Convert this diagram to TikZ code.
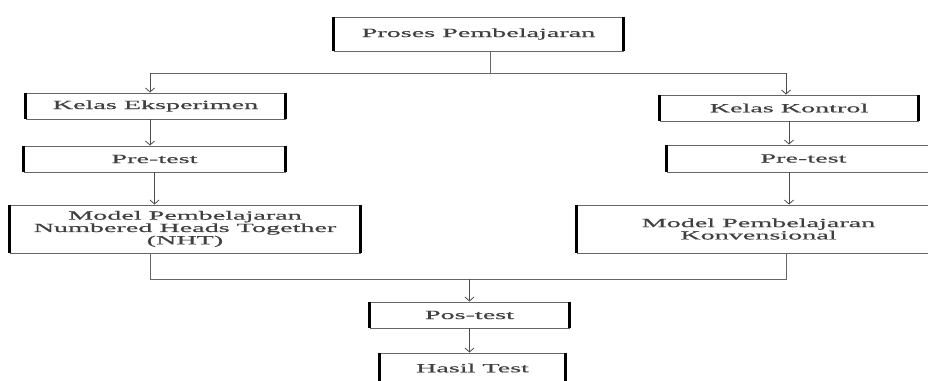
\documentclass[tikz,border=0pt]{standalone}
\usepackage{fontspec}
\setmainfont{Liberation Serif}
\newfontfamily\widefont[FakeStretch=2.25, FakeBold=0.6]{Liberation Serif}
\usetikzlibrary{arrows.meta, calc}

\begin{document}
\begin{tikzpicture}[
  x=1pt, y=-1pt,
  font=\widefont\fontsize{12.5}{10}\selectfont,
  sides/.style={draw=black, line width=2.4pt, -},
  box/.style={draw=black!60, line width=0.9pt, align=center, inner sep=0pt, text=black!75,
    append after command={(\tikzlastnode.north west) edge[sides] (\tikzlastnode.south west)
                          (\tikzlastnode.north east) edge[sides] (\tikzlastnode.south east)}},
  flow/.style={-{Straight Barb[length=4pt, width=9pt]}, draw=black!70, line width=0.8pt},
  link/.style={draw=black!60, line width=0.8pt}
]
\useasboundingbox (0,0) rectangle (928,380);
\clip (0,0) rectangle (928,380);

% --- top: the learning process ---
\node[box, minimum width=289, minimum height=34] (proses) at (478.5,34) {Proses Pembelajaran};

% --- left branch: experiment class ---
\node[box, minimum width=259, minimum height=26] (eksp) at (155.5,106) {Kelas Eksperimen};
\node[box, minimum width=261, minimum height=26] (pre1) at (154.5,159) {Pre-test};
\node[box, minimum width=350, minimum height=48] (nht)  at (185,229)
  {Model Pembelajaran\\Numbered Heads Together\\(NHT)};

% --- right branch: control class ---
\node[box, minimum width=258, minimum height=26] (kontrol) at (789,108) {Kelas Kontrol};
\node[box, minimum width=273, minimum height=27] (pre2)    at (803.5,158.5) {Pre-test};
\node[box, minimum width=363, minimum height=48] (konv)    at (758.5,229)
  {Model Pembelajaran\\Konvensional};

% --- bottom: post-test and result ---
\node[box, minimum width=199, minimum height=26] (pos)   at (469.5,315) {Pos-test};
\node[box, minimum width=185, minimum height=30] (hasil) at (472.5,368) {Hasil Test};

% split into the two classes
\coordinate (lsplit) at (150,73);
\coordinate (rsplit) at (786,73);
\draw[link] ([xshift=12pt]proses.south) -- ([xshift=12pt]proses.south |- lsplit);
\draw[link] (lsplit) -- (rsplit);
\draw[flow] (lsplit) -- (lsplit |- eksp.north);
\draw[flow] (rsplit) -- (rsplit |- kontrol.north);

% down each branch
\draw[flow] (eksp.south -| lsplit) -- (pre1.north -| lsplit);
\draw[flow] (pre1.south) -- (pre1.south |- nht.north);
\draw[flow] (kontrol.south) -- (kontrol.south |- pre2.north);
\draw[flow] (kontrol.south |- pre2.south) -- (kontrol.south |- konv.north);

% merge into the post-test
\coordinate (lmerge) at (150,279);
\coordinate (rmerge) at (786,279);
\draw[link] (nht.south -| lmerge) -- (lmerge) -- (rmerge) -- (konv.south -| rmerge);
\draw[flow] (pos.north |- lmerge) -- (pos.north);
\draw[flow] (pos.south) -- (pos.south |- hasil.north);

\end{tikzpicture}
\end{document}
